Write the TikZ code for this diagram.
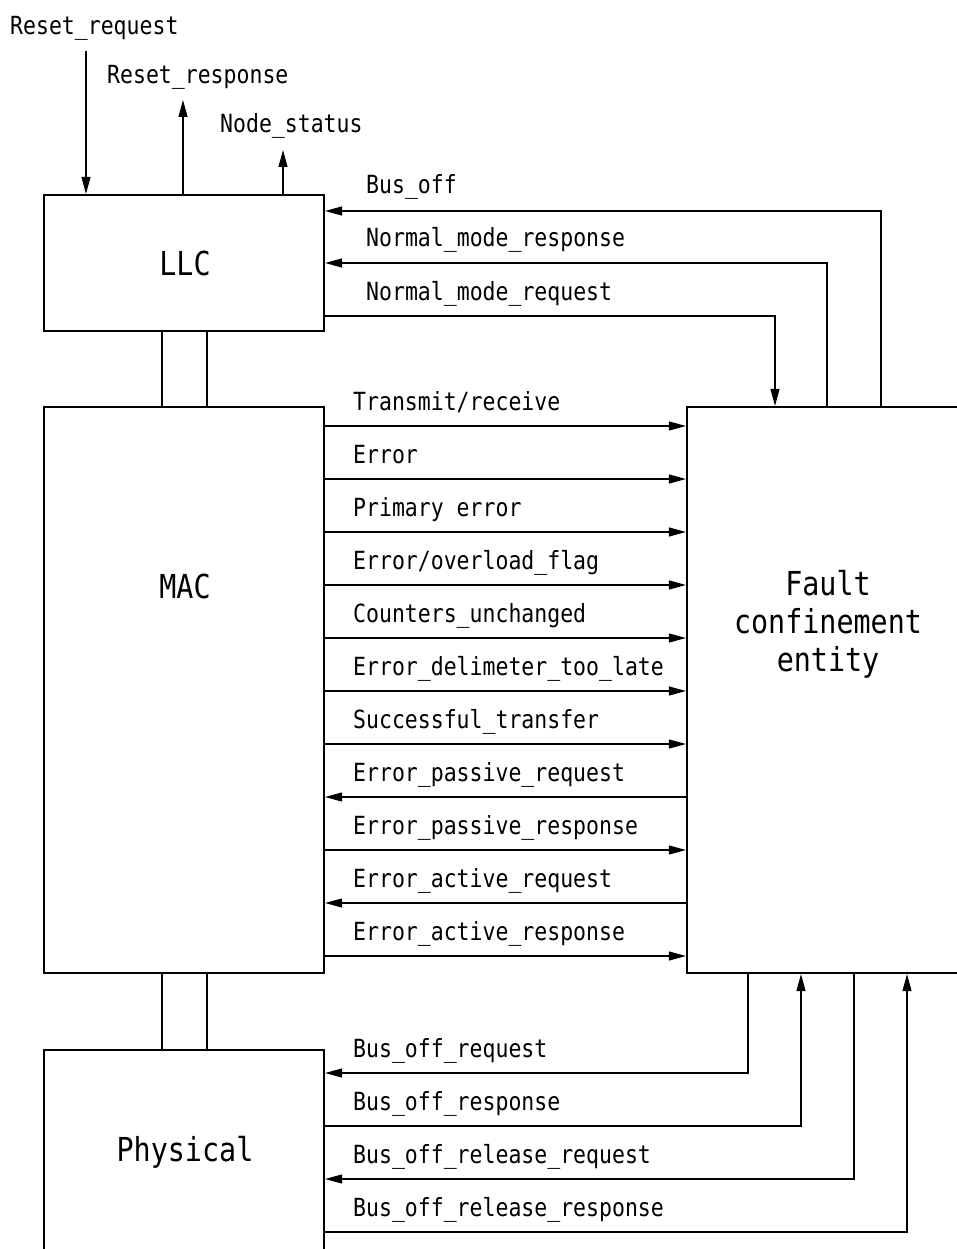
\documentclass[tikz,border=0pt]{standalone}
\usepackage{fontspec}
\newfontfamily\isofont[FakeStretch=0.86]{DejaVu Sans Mono}
\usetikzlibrary{arrows.meta}
\begin{document}
\begin{tikzpicture}[x=1pt,y=-1pt,
 box/.style={draw, line width=2.2pt, minimum width=280pt, inner sep=0pt},
 lab/.style={anchor=base west, inner sep=0pt, font=\isofont\fontsize{25}{28}\selectfont},
 big/.style={font=\isofont\fontsize{33}{38}\selectfont, align=center, inner sep=0pt},
 arr/.style={line width=1.2pt, -{Triangle[length=17pt,width=9pt]}},
 link/.style={line width=2pt}]
\useasboundingbox (0,0) rectangle (956,1249);
% boxes
\node[box, minimum height=136pt] (llc) at (184,263) {};
\node[box, minimum height=566pt] (mac) at (184,690) {};
\node[box, minimum height=260pt] (phy) at (184,1180) {};
\node[box, minimum width=330pt, minimum height=566pt] (fce) at (852,690) {};
% box labels
\node[big, anchor=base] (llct) at (185,276) {LLC};
\node[big, anchor=base] (mact) at (185,598) {MAC};
\node[big, anchor=base] (phyt) at (185,1161) {Physical};
\node[big] (fcet) at (828,624) {Fault\\confinement\\entity};
% links between layers
\draw[link] (llc.south -| 162,0) -- (mac.north -| 162,0);
\draw[link] (llc.south -| 207,0) -- (mac.north -| 207,0);
\draw[link] (mac.south -| 162,0) -- (phy.north -| 162,0);
\draw[link] (mac.south -| 207,0) -- (phy.north -| 207,0);
% reset / status
\coordinate (rq) at (86,51);
\coordinate (rs) at (183,100);
\coordinate (ns) at (283,150);
\draw[arr] (rq) -- (rq |- llc.north);
\draw[arr] (llc.north -| rs) -- (rs);
\draw[arr] (llc.north -| ns) -- (ns);
\node[lab] (rqt) at (10,35) {Reset\_request};
\node[lab] (rst) at (107,84) {Reset\_response};
\node[lab] (nst) at (220,133) {Node\_status};
% LLC <-> FCE
\draw[arr] (fce.north -| 881,0) |- (llc.east |- 0,211);
\draw[arr] (fce.north -| 827,0) |- (llc.east |- 0,263);
\draw[arr] (llc.east |- 0,316) -| (fce.north -| 775,0);
\node[lab] (t1) at (366,194) {Bus\_off};
\node[lab] (t2) at (366,247) {Normal\_mode\_response};
\node[lab] (t3) at (366,300) {Normal\_mode\_request};
% MAC <-> FCE
\draw[arr] (mac.east |- 0,426) -- (fce.west |- 0,426);
\draw[arr] (mac.east |- 0,479) -- (fce.west |- 0,479);
\draw[arr] (mac.east |- 0,532) -- (fce.west |- 0,532);
\draw[arr] (mac.east |- 0,585) -- (fce.west |- 0,585);
\draw[arr] (mac.east |- 0,638) -- (fce.west |- 0,638);
\draw[arr] (mac.east |- 0,691) -- (fce.west |- 0,691);
\draw[arr] (mac.east |- 0,744) -- (fce.west |- 0,744);
\draw[arr] (fce.west |- 0,797) -- (mac.east |- 0,797);
\draw[arr] (mac.east |- 0,850) -- (fce.west |- 0,850);
\draw[arr] (fce.west |- 0,903) -- (mac.east |- 0,903);
\draw[arr] (mac.east |- 0,956) -- (fce.west |- 0,956);
\node[lab] (m1) at (353,410) {Transmit/receive};
\node[lab] (m2) at (353,463) {Error};
\node[lab] (m3) at (353,516) {Primary error};
\node[lab] (m4) at (353,569) {Error/overload\_flag};
\node[lab] (m5) at (353,622) {Counters\_unchanged};
\node[lab] (m6) at (353,675) {Error\_delimeter\_too\_late};
\node[lab] (m7) at (353,728) {Successful\_transfer};
\node[lab] (m8) at (353,781) {Error\_passive\_request};
\node[lab] (m9) at (353,834) {Error\_passive\_response};
\node[lab] (m10) at (353,887) {Error\_active\_request};
\node[lab] (m11) at (353,940) {Error\_active\_response};
% Physical <-> FCE
\draw[arr] (fce.south -| 748,0) |- (phy.east |- 0,1073);
\draw[arr] (phy.east |- 0,1126) -| (fce.south -| 801,0);
\draw[arr] (fce.south -| 854,0) |- (phy.east |- 0,1179);
\draw[arr] (phy.east |- 0,1232) -| (fce.south -| 907,0);
\node[lab] (b1) at (353,1057) {Bus\_off\_request};
\node[lab] (b2) at (353,1110) {Bus\_off\_response};
\node[lab] (b3) at (353,1163) {Bus\_off\_release\_request};
\node[lab] (b4) at (353,1216) {Bus\_off\_release\_response};
\end{tikzpicture}
\end{document}
